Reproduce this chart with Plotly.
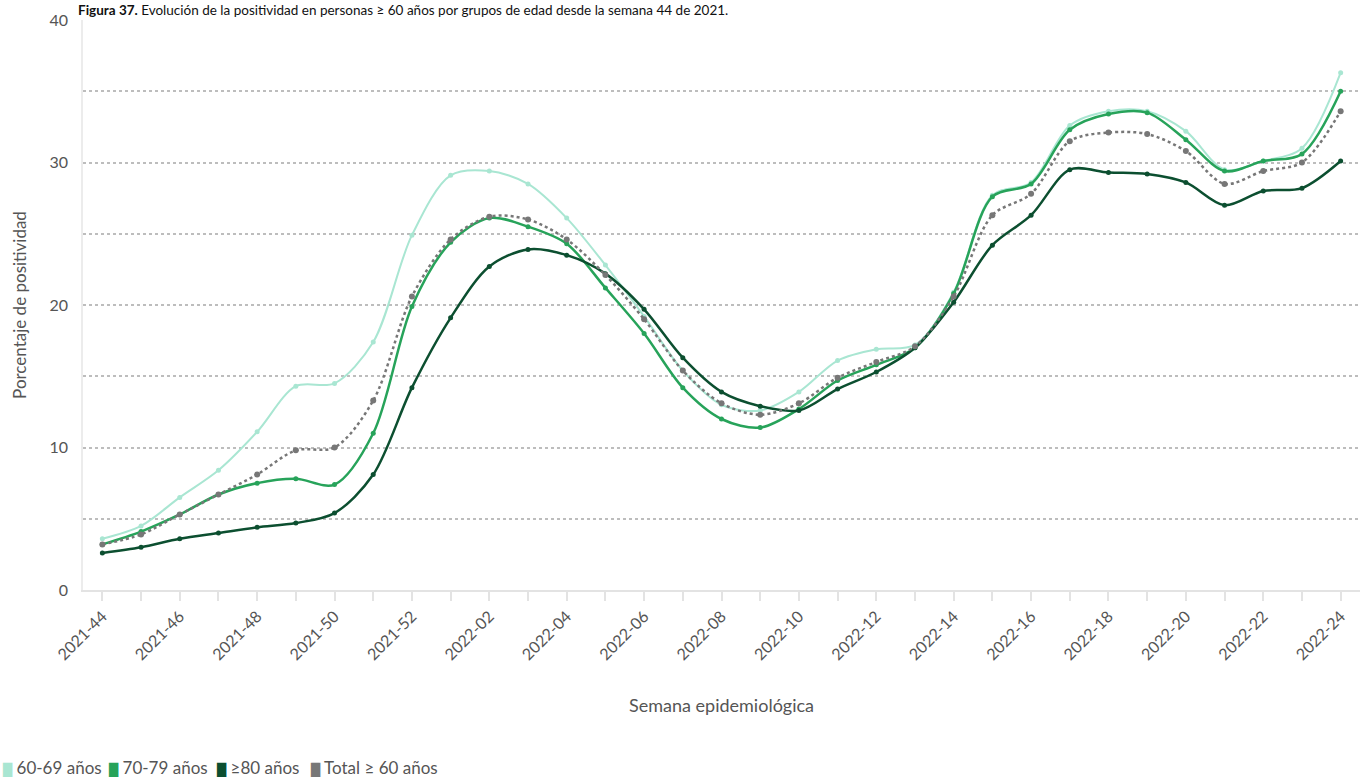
import plotly.graph_objects as go

weeks = ["2021-44", "2021-45", "2021-46", "2021-47", "2021-48", "2021-49", "2021-50",
         "2021-51", "2021-52", "2022-01", "2022-02", "2022-03", "2022-04", "2022-05",
         "2022-06", "2022-07", "2022-08", "2022-09", "2022-10", "2022-11", "2022-12",
         "2022-13", "2022-14", "2022-15", "2022-16", "2022-17", "2022-18", "2022-19",
         "2022-20", "2022-21", "2022-22", "2022-23", "2022-24"]

g60_69 = [3.6, 4.5, 6.5, 8.4, 11.1, 14.3, 14.5, 17.4, 24.9, 29.1, 29.4, 28.5, 26.1,
          22.8, 19.2, 15.4, 13.0, 12.6, 13.9, 16.1, 16.9, 17.2, 20.9, 27.7, 28.6,
          32.6, 33.6, 33.6, 32.2, 29.5, 30.1, 31.0, 36.3]
g70_79 = [3.2, 4.1, 5.3, 6.7, 7.5, 7.8, 7.4, 11.0, 19.9, 24.4, 26.1, 25.5, 24.3,
          21.2, 18.0, 14.2, 12.0, 11.4, 12.7, 14.7, 15.8, 17.0, 20.8, 27.6, 28.5,
          32.3, 33.4, 33.5, 31.6, 29.4, 30.1, 30.6, 35.0]
g80 = [2.6, 3.0, 3.6, 4.0, 4.4, 4.7, 5.4, 8.1, 14.2, 19.1, 22.7, 23.9, 23.5,
       22.2, 19.7, 16.3, 13.9, 12.9, 12.6, 14.1, 15.3, 17.0, 20.2, 24.2, 26.3,
       29.5, 29.3, 29.2, 28.6, 27.0, 28.0, 28.2, 30.1]
total = [3.2, 3.9, 5.3, 6.7, 8.1, 9.8, 10.0, 13.3, 20.6, 24.6, 26.2, 26.0, 24.6,
         22.1, 19.0, 15.4, 13.1, 12.3, 13.1, 14.9, 16.0, 17.1, 20.6, 26.3, 27.8,
         31.5, 32.1, 32.0, 30.8, 28.5, 29.4, 30.0, 33.6]

series_names = ["60-69 años", "70-79 años", "\u226580 años", "Total \u2265 60 años"]
series_colors = ["#a9e6d2", "#27a35a", "#0c4f30", "#777777"]

x_labels = [w if i % 2 == 0 else "" for i, w in enumerate(weeks)]
y_grid = [0, 5, 10, 15, 20, 25, 30, 35, 40]
y_labels = ["0", "", "10", "", "20", "", "30", "", "40"]

FONT = "Lato, 'Noto Sans', sans-serif"
TXT = "#555555"

W, H = 1360, 780
ML, MR, MT, MB = 83, 0, 20, 190
PW, PH = W - ML - MR, H - MT - MB


def px_x(px):
    return (px - ML) / PW


def px_y(py):
    return 1 - (py - MT) / PH


fig = go.Figure()
data = [g60_69, g70_79, g80, total]
widths = [2, 2.5, 2.5, 2.5]
dashes = ["solid", "solid", "solid", "dot"]
msizes = [5, 5, 5, 6]
for name, vals, col, w, d, ms in zip(series_names, data, series_colors, widths, dashes, msizes):
    fig.add_trace(go.Scatter(
        x=weeks, y=vals, name=name, mode="lines+markers",
        line=dict(color=col, width=w, dash=d, shape="spline", smoothing=0.9),
        marker=dict(color=col, size=ms), showlegend=False,
    ))

annotations = [dict(
    text="<b>Figura 37.</b> Evolución de la positividad en personas \u2265 60 años por grupos de edad desde la semana 44 de 2021.",
    xref="paper", yref="paper", x=px_x(76), y=px_y(0), xanchor="left", yanchor="top",
    showarrow=False, font=dict(size=13.5, color="#111111", family=FONT),
)]
# legend row (colour swatch + label), as in the reference
legend_px = [0, 106, 214, 308]
for name, col, lx in zip(series_names, series_colors, legend_px):
    annotations.append(dict(
        text=f'<span style="color:{col};font-size:12px;font-family:DejaVu Sans">\u2588</span> {name}',
        xref="paper", yref="paper", x=px_x(lx), y=px_y(767), xanchor="left", yanchor="middle",
        showarrow=False, font=dict(size=17, color=TXT, family=FONT),
    ))

fig.update_layout(
    width=W, height=H,
    margin=dict(l=ML, r=MR, t=MT, b=MB, autoexpand=False),
    paper_bgcolor="white", plot_bgcolor="white",
    font=dict(family=FONT, color=TXT, size=16),
    showlegend=False,
    annotations=annotations,
)
fig.update_xaxes(
    type="category", range=[-0.5, len(weeks) - 0.5], automargin=False,
    tickmode="array", tickvals=weeks, ticktext=x_labels, tickangle=-45,
    tickfont=dict(size=16, color=TXT),
    ticks="outside", ticklen=9, tickcolor="#e3e3e3", tickwidth=1.5,
    showline=True, linecolor="#e3e3e3", linewidth=1.5,
    showgrid=False, zeroline=False,
    title=dict(text="Semana epidemiológica", font=dict(size=18, color=TXT), standoff=37),
)
fig.update_yaxes(
    range=[0, 40], tickmode="array", tickvals=y_grid, ticktext=y_labels, automargin=False,
    tickfont=dict(size=16, color=TXT), ticklabelstandoff=10,
    showgrid=True, gridcolor="#bdbdbd", griddash="dot", gridwidth=1.5,
    showline=True, linecolor="#ececec", linewidth=1.5,
    zeroline=False, ticks="",
    title=dict(text="Porcentaje de positividad", font=dict(size=17, color=TXT), standoff=19),
)
fig.write_html("out.html", config={"displayModeBar": False},
               post_script="document.body.style.margin='0px';")
